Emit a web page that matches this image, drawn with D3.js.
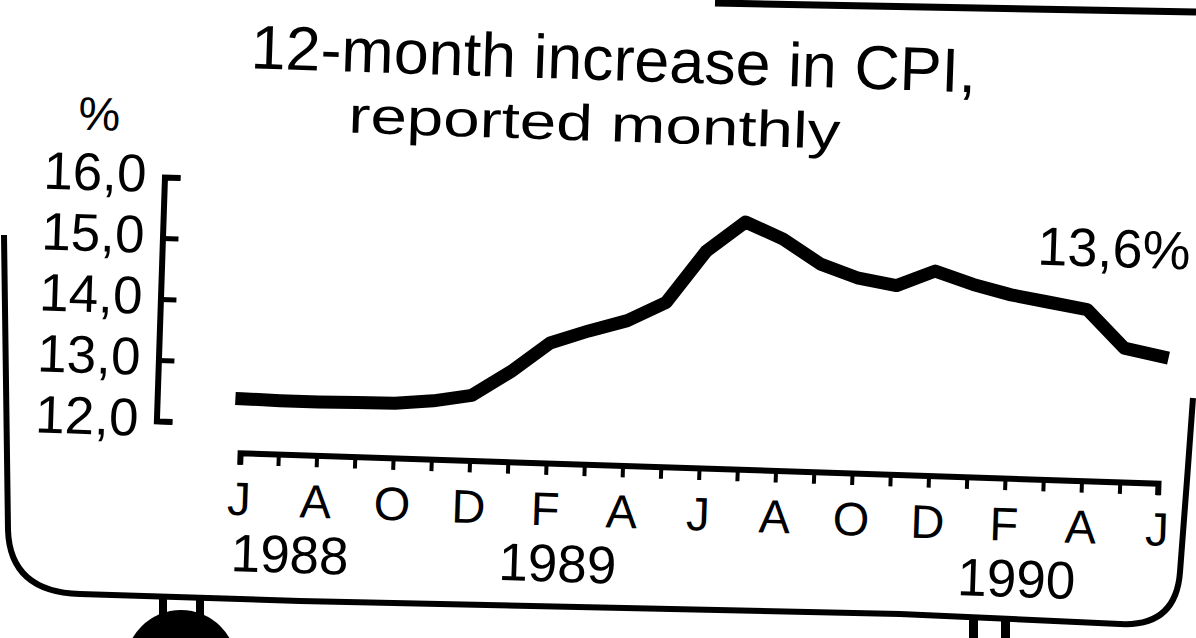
<!DOCTYPE html>
<html>
<head>
<meta charset="utf-8">
<script src="https://cdn.jsdelivr.net/npm/d3@7/dist/d3.min.js"></script>
<style>
  html, body { margin: 0; padding: 0; background: #fff; }
  svg { display: block; font-family: "Liberation Sans", Arial, Helvetica, sans-serif; }
</style>
</head>
<body>
<svg id="chart" width="1196" height="638"></svg>
<script>
// Monthly observations, June 1988 to June 1990
const months = [
  "Jun 1988", "Jul 1988", "Aug 1988", "Sep 1988", "Oct 1988", "Nov 1988", "Dec 1988",
  "Jan 1989", "Feb 1989", "Mar 1989", "Apr 1989", "May 1989", "Jun 1989",
  "Jul 1989", "Aug 1989", "Sep 1989", "Oct 1989", "Nov 1989", "Dec 1989",
  "Jan 1990", "Feb 1990", "Mar 1990", "Apr 1990", "May 1990", "Jun 1990"
];

// 12-month increase in the consumer price index, %
const cpiIncrease = [
  12.41, 12.40, 12.40, 12.41, 12.42, 12.48, 12.59,
  13.00, 13.49, 13.71, 13.90, 14.22, 15.08,
  15.58, 15.32, 14.93, 14.72, 14.62, 14.88,
  14.68, 14.53, 14.43, 14.33, 13.72, 13.60
];

// Month initials shown under every second tick
const monthInitials = { Jun: "J", Aug: "A", Oct: "O", Dec: "D", Feb: "F", Apr: "A" };

// Year captions and the month each one starts at
const yearCaptions = ["1988", "1989", "1990"];
const yearStarts = ["Jun 1988", "Jan 1989", "Jan 1990"];

// Vertical axis
const yTickValues = [16, 15, 14, 13, 12];
const yTickLabels = ["16,0", "15,0", "14,0", "13,0", "12,0"];

const titleLines = ["12-month increase in CPI,", "reported monthly"];
const unitLabel = "%";

const svg = d3.select("#chart");
const ink = "#000";

// ---- frame around the graphic ----
const frame = svg.append("g").attr("fill", "none").attr("stroke", ink);
frame.append("path")
  .attr("d", "M4,235 L8,530 Q10,592 80,594 L300,601 L900,614 L1120,624 Q1176,627 1180,572 L1187,480 L1193,398")
  .attr("stroke-width", 6);
frame.append("path")
  .attr("d", "M715,3 L1196,12")
  .attr("stroke-width", 7);

// neighbouring page furniture peeking in at the bottom
const extras = svg.append("g").attr("fill", ink);
extras.append("circle").attr("cx", 181).attr("cy", 666).attr("r", 56);
extras.append("rect").attr("x", 159).attr("y", 596).attr("width", 8).attr("height", 30);
extras.append("rect").attr("x", 196).attr("y", 598).attr("width", 8).attr("height", 30);
extras.append("rect").attr("x", 969).attr("y", 620).attr("width", 9).attr("height", 20);
extras.append("rect").attr("x", 1001).attr("y", 621).attr("width", 9).attr("height", 20);

// ---- the chart itself (the printed sheet sits slightly askew) ----
const g = svg.append("g").attr("transform", "rotate(1.9 600 320)");

const x = d3.scalePoint().domain(months).range([244.7, 1163.1]);
const y = d3.scaleLinear().domain([12, 16]).range([435.6, 191.6]);

// title
g.append("text")
  .attr("x", 242).attr("y", 80)
  .attr("font-size", 62)
  .attr("textLength", 726).attr("lengthAdjust", "spacingAndGlyphs")
  .attr("fill", ink)
  .text(titleLines[0]);
g.append("text")
  .attr("x", 342).attr("y", 141)
  .attr("font-size", 51)
  .attr("textLength", 492).attr("lengthAdjust", "spacingAndGlyphs")
  .attr("fill", ink)
  .text(titleLines[1]);
g.append("text")
  .attr("x", 72).attr("y", 147)
  .attr("font-size", 47)
  .attr("fill", ink)
  .text(unitLabel);

// y axis: bracket with ticks pointing into the plot, labels to the left
const yAxis = g.append("g")
  .attr("transform", "translate(160,0)")
  .call(d3.axisLeft(y)
    .tickValues(yTickValues)
    .tickSizeInner(-16)
    .tickSizeOuter(-16)
    .tickPadding(18)
    .tickFormat((d, i) => yTickLabels[i]));
yAxis.select(".domain").attr("stroke", ink).attr("stroke-width", 6);
yAxis.selectAll(".tick line").attr("stroke", ink).attr("stroke-width", 5);
yAxis.selectAll(".tick text")
  .attr("font-size", 53)
  .attr("font-family", "Liberation Sans, Arial, sans-serif")
  .attr("fill", ink)
  .attr("dy", "0.28em");

// x axis: a tick every month, initials every second month
const xAxis = g.append("g")
  .attr("transform", "translate(0,464.6)")
  .call(d3.axisBottom(x)
    .tickSizeInner(12)
    .tickSizeOuter(12)
    .tickFormat(m => monthInitials[m.slice(0, 3)] || ""));
xAxis.select(".domain").attr("stroke", ink).attr("stroke-width", 6);
xAxis.selectAll(".tick line").attr("stroke", ink).attr("stroke-width", 4);
xAxis.selectAll(".tick text")
  .attr("font-size", 47)
  .attr("font-family", "Liberation Sans, Arial, sans-serif")
  .attr("fill", ink)
  .attr("y", 62.4)
  .attr("dy", 0);

// year captions
g.append("g")
  .selectAll("text")
  .data(yearCaptions)
  .join("text")
  .attr("x", (d, i) => x(yearStarts[i]) - 6)
  .attr("y", 583)
  .attr("font-size", 53)
  .attr("fill", ink)
  .text(d => d);

// the series
const line = d3.line()
  .x((d, i) => x(months[i]))
  .y(d => y(d));
g.append("path")
  .datum(cpiIncrease)
  .attr("d", line)
  .attr("fill", "none")
  .attr("stroke", ink)
  .attr("stroke-width", 13)
  .attr("stroke-linejoin", "round")
  .attr("stroke-linecap", "square");

// latest value callout
const lastIndex = cpiIncrease.length - 1;
const latest = cpiIncrease[lastIndex];
g.append("text")
  .attr("x", x(months[lastIndex]) + 25)
  .attr("y", y(latest) - 88)
  .attr("text-anchor", "end")
  .attr("font-size", 54)
  .attr("fill", ink)
  .text(d3.format(".1f")(latest).replace(".", ",") + "%");
</script>
</body>
</html>
